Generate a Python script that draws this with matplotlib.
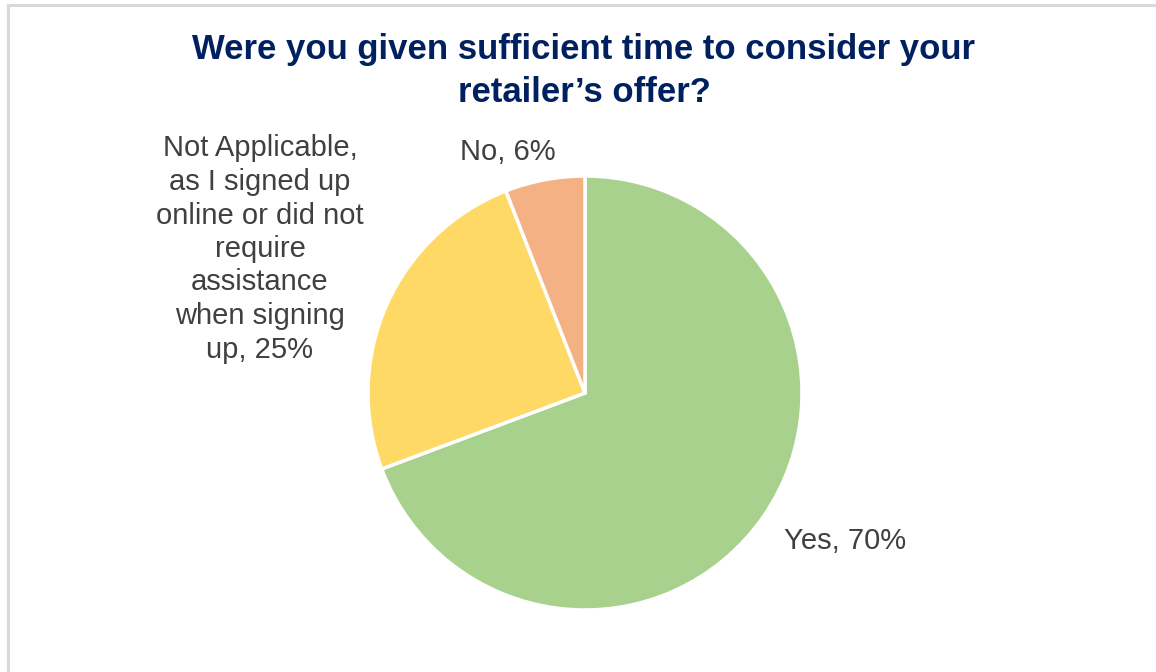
import matplotlib.pyplot as plt
from matplotlib.patches import Rectangle

# Dane
categories = ["Yes", "Not Applicable, as I signed up online or did not require assistance when signing up", "No"]
values = [70, 25, 6]
labels = ["Yes, 70%",
          "Not Applicable,\nas I signed up\nonline or did not\nrequire\nassistance\nwhen signing\nup, 25%",
          "No, 6%"]
colors = ["#A9D18E", "#FFD966", "#F4B183"]
title = "Were you given sufficient time to consider your\nretailer\u2019s offer?"

plt.rcParams['font.family'] = ['Liberation Sans', 'DejaVu Sans']

W, H = 1156, 672
fig = plt.figure(figsize=(W / 100, H / 100), dpi=100)

# ramka wykresu
fig.patches.append(Rectangle((8 / W, -0.1), 1.2, (H - 5) / H + 0.1, transform=fig.transFigure,
                             fill=False, edgecolor="#D9D9D9", linewidth=2.2))

# os kolowa
cx, cy, r = 585, 393, 217
ax = fig.add_axes([(cx - r) / W, (H - cy - r) / H, 2 * r / W, 2 * r / H])
ax.pie(values, colors=colors, startangle=90, counterclock=False, radius=1,
       wedgeprops=dict(edgecolor="white", linewidth=2.5))
ax.set_xlim(-1.0, 1.0)
ax.set_ylim(-1.0, 1.0)
ax.axis('off')

fig.text(584 / W, 1 - 71 / H, title, ha='center', va='center', fontsize=25,
         fontweight='bold', color="#002060", linespacing=1.4)

txt = dict(color="#404040", fontsize=21, ha='center', va='center', linespacing=1.25)
fig.text(845 / W, 1 - 541 / H, labels[0], **txt)
fig.text(260 / W, 1 - 249 / H, labels[1], **txt)
fig.text(508 / W, 1 - 152 / H, labels[2], **txt)

plt.savefig("out.png", dpi=100)
